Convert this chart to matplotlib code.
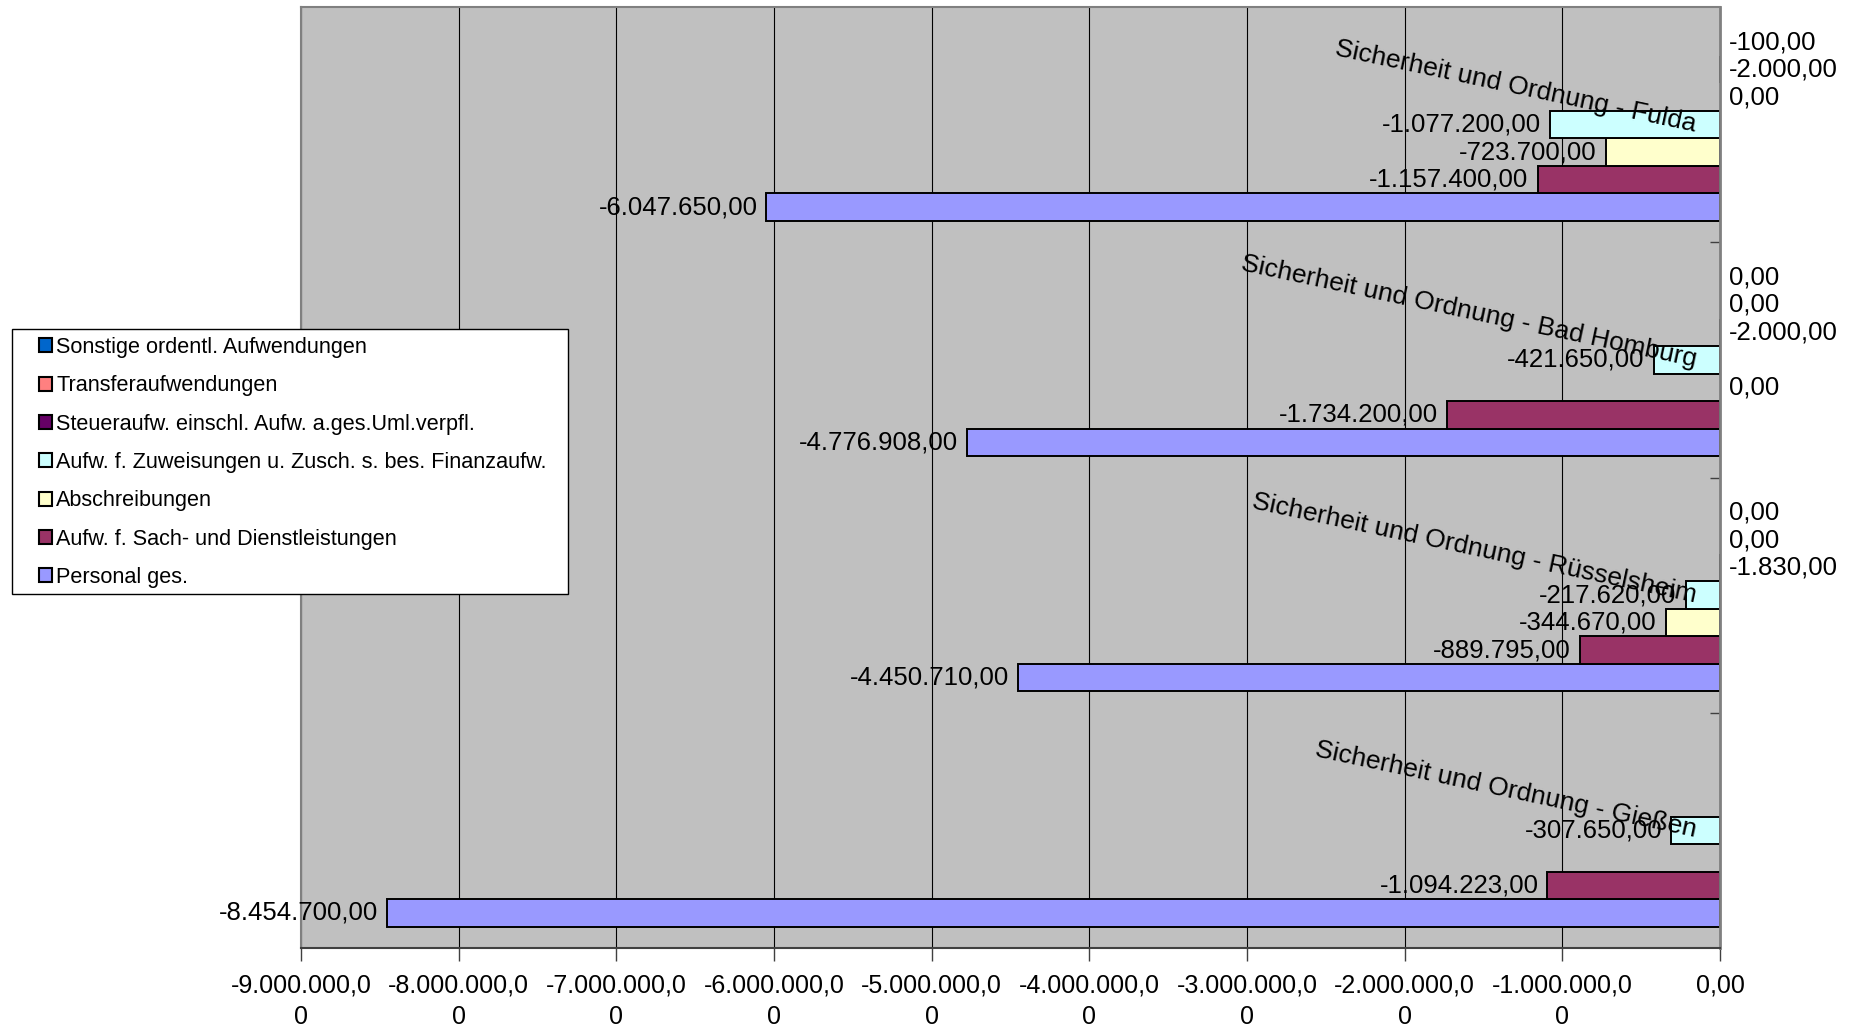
import numpy as np
import matplotlib
matplotlib.use("Agg")
import matplotlib.pyplot as plt
from matplotlib.patches import Rectangle

plt.rcParams['font.family'] = ['Liberation Sans', 'DejaVu Sans']

# ---- data ----
categories = ["Sicherheit und Ordnung - Gießen",
              "Sicherheit und Ordnung - Rüsselsheim",
              "Sicherheit und Ordnung - Bad Homburg",
              "Sicherheit und Ordnung - Fulda"]

series_names = ["Personal ges.",
                "Aufw. f. Sach- und Dienstleistungen",
                "Abschreibungen",
                "Aufw. f. Zuweisungen u. Zusch. s. bes. Finanzaufw.",
                "Steueraufw. einschl. Aufw. a.ges.Uml.verpfl.",
                "Transferaufwendungen",
                "Sonstige ordentl. Aufwendungen"]

personal = [-8454700.00, -4450710.00, -4776908.00, -6047650.00]
sach = [-1094223.00, -889795.00, -1734200.00, -1157400.00]
abschreibungen = [np.nan, -344670.00, 0.00, -723700.00]
zuweisungen = [-307650.00, -217620.00, -421650.00, -1077200.00]
steuer = [np.nan, -1830.00, -2000.00, 0.00]
transfer = [np.nan, 0.00, 0.00, -2000.00]
sonstige = [np.nan, 0.00, 0.00, -100.00]

series_values = [personal, sach, abschreibungen, zuweisungen, steuer, transfer, sonstige]
series_colors = ["#9999FF", "#993366", "#FFFFCC", "#CCFFFF", "#660066", "#FF8080", "#0066CC"]

x_ticks = [-9000000, -8000000, -7000000, -6000000, -5000000, -4000000,
           -3000000, -2000000, -1000000, 0]
x_tick_labels = ["-9.000.000,0\n0", "-8.000.000,0\n0", "-7.000.000,0\n0",
                 "-6.000.000,0\n0", "-5.000.000,0\n0", "-4.000.000,0\n0",
                 "-3.000.000,0\n0", "-2.000.000,0\n0", "-1.000.000,0\n0", "0,00"]


def de(v):
    s = f"{v:,.2f}"
    return s.replace(",", "X").replace(".", ",").replace("X", ".")


W, H = 1851, 1028
fig = plt.figure(figsize=(W / 100, H / 100), dpi=100)
ax = fig.add_axes([301 / W, 1 - 948 / H, (1720 - 301) / W, (948 - 7) / H])
ax.set_facecolor("#C0C0C0")

h = 0.117
y = np.arange(len(categories))
for i, (vals, col) in enumerate(zip(series_values, series_colors)):
    vals = np.array(vals, dtype=float)
    lws = [0 if (np.isnan(v) or abs(v) < 1000) else 1.4 for v in vals]
    pos = y + (i - 3) * h
    bars = ax.barh(pos, np.nan_to_num(vals, nan=0.0), height=h, color=col,
                   edgecolor="black", linewidth=lws, zorder=2)
    for b, v, p in zip(bars, vals, pos):
        if np.isnan(v):
            b.set_visible(False)
            continue
        if abs(v) < 5000:
            ax.annotate(de(v), xy=(0, p), xytext=(9, 0), textcoords="offset pixels",
                        ha="left", va="center", fontsize=18.5, annotation_clip=False,
                        zorder=4)
        else:
            ax.annotate(de(v), xy=(v, p), xytext=(-9, 0), textcoords="offset pixels",
                        ha="right", va="center", fontsize=18.5, zorder=4)

# category labels (rotated, anchored near the value axis)
for yi, cat in zip(y, categories):
    ax.annotate(cat, xy=(0, yi), xytext=(-24, 0), textcoords="offset pixels",
                ha="right", va="center", rotation=-12, rotation_mode="anchor",
                fontsize=19, zorder=5)

ax.set_xlim(-9000000, 0)
ax.set_ylim(-0.5, 3.5)
ax.set_xticks(x_ticks)
ax.set_xticklabels(x_tick_labels, fontsize=18, linespacing=1.4)
ax.xaxis.grid(True, color="black", linewidth=0.8)
ax.set_axisbelow(True)
ax.tick_params(axis="x", direction="out", length=9, width=1, color="#404040", pad=9)

ax.yaxis.tick_right()
ax.set_yticks([0.5, 1.5, 2.5])
ax.set_yticklabels([])
ax.tick_params(axis="y", direction="in", length=7, width=1, color="#404040")

for s in ["top", "left"]:
    ax.spines[s].set_color("#808080")
    ax.spines[s].set_linewidth(1.5)
ax.spines["right"].set_color("#808080")
ax.spines["right"].set_linewidth(2)
ax.spines["bottom"].set_color("#404040")
ax.spines["bottom"].set_linewidth(1.5)

# legend frame
fig.patches.append(Rectangle((12 / W, 1 - 594 / H), (568 - 12) / W, (594 - 329) / H,
                             transform=fig.transFigure, facecolor="white",
                             edgecolor="black", linewidth=1, zorder=10))
leg_handles = [Rectangle((0, 0), 1, 1, facecolor=c, edgecolor="black", linewidth=1.5)
               for c in series_colors][::-1]
leg_labels = series_names[::-1]
leg = fig.legend(leg_handles, leg_labels, loc="upper left",
                 bbox_to_anchor=(39 / W, 1 - 337 / H), frameon=False,
                 fontsize=15.6, handlelength=0.6, handleheight=0.6,
                 handletextpad=0.2, labelspacing=0.8, borderpad=0, borderaxespad=0)
leg.set_zorder(11)

fig.savefig("out.png", dpi=100)
